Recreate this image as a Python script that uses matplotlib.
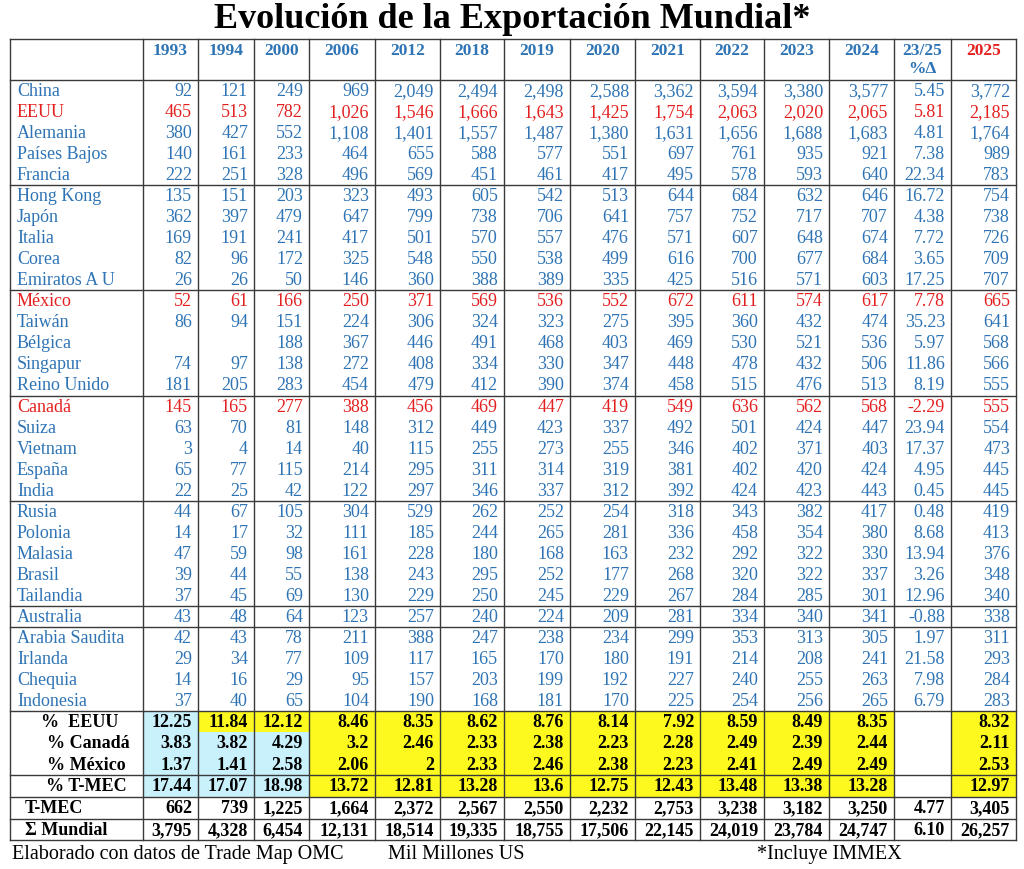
import matplotlib.pyplot as plt
from matplotlib.patches import Rectangle

# column headers
years = ['1993', '1994', '2000', '2006', '2012', '2018', '2019', '2020',
         '2021', '2022', '2023', '2024', '23/25\n%Δ', '2025']

# exports, miles de millones US (last-but-one value is % change 23/25)
china = [92, 121, 249, 969, 2049, 2494, 2498, 2588, 3362, 3594, 3380, 3577, 5.45, 3772]
eeuu = [465, 513, 782, 1026, 1546, 1666, 1643, 1425, 1754, 2063, 2020, 2065, 5.81, 2185]
alemania = [380, 427, 552, 1108, 1401, 1557, 1487, 1380, 1631, 1656, 1688, 1683, 4.81, 1764]
paises_bajos = [140, 161, 233, 464, 655, 588, 577, 551, 697, 761, 935, 921, 7.38, 989]
francia = [222, 251, 328, 496, 569, 451, 461, 417, 495, 578, 593, 640, 22.34, 783]
hong_kong = [135, 151, 203, 323, 493, 605, 542, 513, 644, 684, 632, 646, 16.72, 754]
japon = [362, 397, 479, 647, 799, 738, 706, 641, 757, 752, 717, 707, 4.38, 738]
italia = [169, 191, 241, 417, 501, 570, 557, 476, 571, 607, 648, 674, 7.72, 726]
corea = [82, 96, 172, 325, 548, 550, 538, 499, 616, 700, 677, 684, 3.65, 709]
emiratos = [26, 26, 50, 146, 360, 388, 389, 335, 425, 516, 571, 603, 17.25, 707]
mexico = [52, 61, 166, 250, 371, 569, 536, 552, 672, 611, 574, 617, 7.78, 665]
taiwan = [86, 94, 151, 224, 306, 324, 323, 275, 395, 360, 432, 474, 35.23, 641]
belgica = [None, None, 188, 367, 446, 491, 468, 403, 469, 530, 521, 536, 5.97, 568]
singapur = [74, 97, 138, 272, 408, 334, 330, 347, 448, 478, 432, 506, 11.86, 566]
reino_unido = [181, 205, 283, 454, 479, 412, 390, 374, 458, 515, 476, 513, 8.19, 555]
canada = [145, 165, 277, 388, 456, 469, 447, 419, 549, 636, 562, 568, -2.29, 555]
suiza = [63, 70, 81, 148, 312, 449, 423, 337, 492, 501, 424, 447, 23.94, 554]
vietnam = [3, 4, 14, 40, 115, 255, 273, 255, 346, 402, 371, 403, 17.37, 473]
espana = [65, 77, 115, 214, 295, 311, 314, 319, 381, 402, 420, 424, 4.95, 445]
india = [22, 25, 42, 122, 297, 346, 337, 312, 392, 424, 423, 443, 0.45, 445]
rusia = [44, 67, 105, 304, 529, 262, 252, 254, 318, 343, 382, 417, 0.48, 419]
polonia = [14, 17, 32, 111, 185, 244, 265, 281, 336, 458, 354, 380, 8.68, 413]
malasia = [47, 59, 98, 161, 228, 180, 168, 163, 232, 292, 322, 330, 13.94, 376]
brasil = [39, 44, 55, 138, 243, 295, 252, 177, 268, 320, 322, 337, 3.26, 348]
tailandia = [37, 45, 69, 130, 229, 250, 245, 229, 267, 284, 285, 301, 12.96, 340]
australia = [43, 48, 64, 123, 257, 240, 224, 209, 281, 334, 340, 341, -0.88, 338]
arabia = [42, 43, 78, 211, 388, 247, 238, 234, 299, 353, 313, 305, 1.97, 311]
irlanda = [29, 34, 77, 109, 117, 165, 170, 180, 191, 214, 208, 241, 21.58, 293]
chequia = [14, 16, 29, 95, 157, 203, 199, 192, 227, 240, 255, 263, 7.98, 284]
indonesia = [37, 40, 65, 104, 190, 168, 181, 170, 225, 254, 256, 265, 6.79, 283]

countries = ['China', 'EEUU', 'Alemania', 'Países Bajos', 'Francia',
             'Hong Kong', 'Japón', 'Italia', 'Corea', 'Emiratos A U',
             'México', 'Taiwán', 'Bélgica', 'Singapur', 'Reino Unido',
             'Canadá', 'Suiza', 'Vietnam', 'España', 'India',
             'Rusia', 'Polonia', 'Malasia', 'Brasil', 'Tailandia',
             'Australia', 'Arabia Saudita', 'Irlanda', 'Chequia', 'Indonesia']
country_values = [china, eeuu, alemania, paises_bajos, francia,
                  hong_kong, japon, italia, corea, emiratos,
                  mexico, taiwan, belgica, singapur, reino_unido,
                  canada, suiza, vietnam, espana, india,
                  rusia, polonia, malasia, brasil, tailandia,
                  australia, arabia, irlanda, chequia, indonesia]
red_countries = ['EEUU', 'México', 'Canadá']

# shares of world exports (%)
pct_eeuu = [12.25, 11.84, 12.12, 8.46, 8.35, 8.62, 8.76, 8.14, 7.92, 8.59, 8.49, 8.35, None, 8.32]
pct_canada = [3.83, 3.82, 4.29, 3.2, 2.46, 2.33, 2.38, 2.23, 2.28, 2.49, 2.39, 2.44, None, 2.11]
pct_mexico = [1.37, 1.41, 2.58, 2.06, 2, 2.33, 2.46, 2.38, 2.23, 2.41, 2.49, 2.49, None, 2.53]
pct_tmec = [17.44, 17.07, 18.98, 13.72, 12.81, 13.28, 13.6, 12.75, 12.43, 13.48, 13.38, 13.28, None, 12.97]
pct_labels = ['%  EEUU', '% Canadá', '% México', '% T-MEC']

# totals
tmec = [662, 739, 1225, 1664, 2372, 2567, 2550, 2232, 2753, 3238, 3182, 3250, 4.77, 3405]
mundial = [3795, 4328, 6454, 12131, 18514, 19335, 18755, 17506, 22145, 24019, 23784, 24747, 6.10, 26257]

BLUE = '#2e74b5'
RED = '#e3201f'
YELLOW = '#fdf91e'
CYAN = '#c9f1fb'
LINE = '#3a3a3a'
FONT = 'Liberation Serif'
FS = 13

col_edges = [10, 143, 198, 254, 309, 375, 440, 504, 570, 635, 700, 764, 829, 894, 951, 1016]
top, head_bot = 40, 81
row_h = (712 - head_bot) / len(countries)
pct_edges = [712, 733.3, 754.7, 776, 798]
tot_edges = [798, 820, 841]
pad = 6


def fmt(v, j, share=False):
    if v is None:
        return ''
    if j == 12:
        return f'{v:.2f}'
    if share:
        return f'{v:g}'
    return f'{v:,.0f}'


fig = plt.figure(figsize=(10.24, 8.70), dpi=100)
ax = fig.add_axes([0, 0, 1, 1])
ax.set_xlim(0, 1024)
ax.set_ylim(870, 0)
ax.axis('off')

ax.text(512, 19, 'Evolución de la Exportación Mundial*', ha='center', va='center',
        fontsize=26, fontweight='bold', family=FONT)

# header
for j, yr in enumerate(years):
    xc = (col_edges[j + 1] + col_edges[j + 2]) / 2
    color = RED if yr == '2025' else BLUE
    ax.text(xc, 43, yr, ha='center', va='top', fontsize=12.5, fontweight='bold',
            color=color, family=FONT, linespacing=1.15)

# country rows
for i, (name, vals) in enumerate(zip(countries, country_values)):
    yc = head_bot + row_h * (i + 0.5)
    color = RED if name in red_countries else BLUE
    ax.text(17, yc, name, ha='left', va='center', fontsize=FS, color=color, family=FONT)
    for j, v in enumerate(vals):
        ax.text(col_edges[j + 2] - pad, yc, fmt(v, j), ha='right', va='center',
                fontsize=FS, color=color, family=FONT)

# share rows with fills
cyan_cols = [1, 3, 3, 3]
pct_rows = [pct_eeuu, pct_canada, pct_mexico, pct_tmec]
label_x = [80, 88, 86, 86]
for k, (label, vals) in enumerate(zip(pct_labels, pct_rows)):
    y0, y1 = pct_edges[k], pct_edges[k + 1]
    yc = (y0 + y1) / 2
    for j, v in enumerate(vals):
        x0, x1 = col_edges[j + 1], col_edges[j + 2]
        if j == 12:
            fc = 'white'
        elif j < cyan_cols[k]:
            fc = CYAN
        else:
            fc = YELLOW
        ax.add_patch(Rectangle((x0, y0), x1 - x0, y1 - y0, facecolor=fc, edgecolor='none', zorder=0))
        ax.text(x1 - pad, yc, fmt(v, j, share=True), ha='right', va='center',
                fontsize=FS, fontweight='bold', color='black', family=FONT)
    ax.text(label_x[k], yc, label, ha='center', va='center', fontsize=FS, fontweight='bold',
            color='black', family=FONT)

# totals
for k, (label, vals) in enumerate(zip(['T-MEC', 'Σ Mundial'], [tmec, mundial])):
    yc = (tot_edges[k] + tot_edges[k + 1]) / 2
    ax.text(25, yc, label, ha='left', va='center', fontsize=FS, fontweight='bold',
            color='black', family=FONT)
    for j, v in enumerate(vals):
        ax.text(col_edges[j + 2] - pad, yc, fmt(v, j), ha='right', va='center',
                fontsize=FS, fontweight='bold', color='black', family=FONT)

# grid lines
hlines = [top, head_bot] + [head_bot + row_h * k for k in (5, 10, 15, 20, 25, 26)] \
    + [712, 776, 798, 820, 841]
for y in hlines:
    ax.plot([col_edges[0], col_edges[-1]], [y, y], color=LINE, lw=1.0, zorder=3)
for x in col_edges:
    ax.plot([x, x], [top, 841], color=LINE, lw=1.0, zorder=3)

# footer
ax.text(12, 855, 'Elaborado con datos de Trade Map OMC', ha='left', va='center',
        fontsize=14.5, family=FONT)
ax.text(388, 855, 'Mil Millones US', ha='left', va='center', fontsize=14.5, family=FONT)
ax.text(757, 855, '*Incluye IMMEX', ha='left', va='center', fontsize=14.5, family=FONT)

fig.savefig('out.png', dpi=100)
